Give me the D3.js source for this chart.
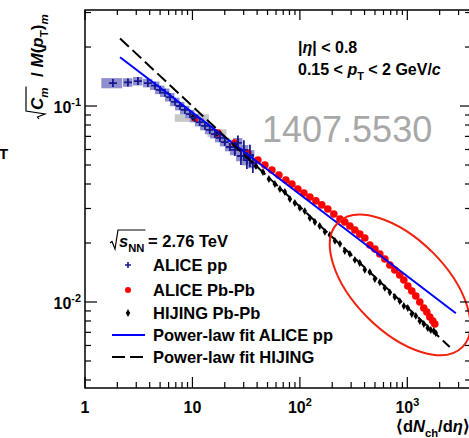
<!DOCTYPE html>
<html>
<head>
<meta charset="utf-8">
<script src="https://cdn.jsdelivr.net/npm/d3@7"></script>
<style>
body { margin: 0; background: #fff; }
svg text { font-family: "Liberation Sans", Arial, sans-serif; font-weight: bold; fill: #000; }
</style>
</head>
<body>
<div id="chart"></div>
<script>
// ALICE pp, blue crosses
var ppX = [1.82, 2.51, 3.11, 3.85, 4.48, 4.99, 5.55, 6.18, 6.88, 7.65, 8.51, 9.48, 10.5, 11.7, 13.1, 14.5, 16.2, 18.0, 20.0, 22.3, 24.8, 26.5, 28.3, 30.1, 32.1, 34.3, 36.5];
var ppY = [0.131, 0.132, 0.134, 0.131, 0.127, 0.121, 0.117, 0.111, 0.105, 0.100, 0.0955, 0.0910, 0.0869, 0.0828, 0.0791, 0.0755, 0.0719, 0.0687, 0.0655, 0.0618, 0.0597, 0.0648, 0.0556, 0.0597, 0.0530, 0.0562, 0.0512];
var ppStat = [0.005, 0.005, 0.005, 0.006, 0.006, 0.007, 0.007, 0.008, 0.008, 0.009, 0.01, 0.01, 0.012, 0.012, 0.014, 0.016, 0.02, 0.025, 0.03, 0.04, 0.07, 0.09, 0.1, 0.12, 0.1, 0.13, 0.11];
var ppSysX = [0.22, 0.1, 0.1, 0.1, 0.1, 0.1, 0.1, 0.1, 0.1, 0.1, 0.1, 0.1, 0.1, 0.1, 0.1, 0.1, 0.1, 0.1, 0.1, 0.1, 0.1, 0.1, 0.1, 0.1, 0.1, 0.1, 0.1];
var ppSysY = [0.06, 0.05, 0.05, 0.05, 0.05, 0.05, 0.05, 0.05, 0.05, 0.05, 0.05, 0.05, 0.05, 0.05, 0.05, 0.05, 0.05, 0.05, 0.05, 0.05, 0.06, 0.06, 0.06, 0.06, 0.06, 0.06, 0.06];

// ALICE Pb-Pb, red circles
var pbX = [10.55, 17.27, 24.85, 32.83, 40.67, 47.25, 54.9, 63.8, 74.1, 84.3, 95.8, 109, 124, 141, 160, 182, 207, 236, 262, 292, 325, 361, 402, 448, 499, 555, 618, 688, 765, 851, 928, 1011, 1101, 1200, 1307, 1424, 1519, 1619, 1727, 1803];
var pbY = [0.0869, 0.0728, 0.0647, 0.0576, 0.0530, 0.0500, 0.0471, 0.0445, 0.0419, 0.0400, 0.0377, 0.0360, 0.0343, 0.0328, 0.0313, 0.0298, 0.0281, 0.0265, 0.0256, 0.0244, 0.0233, 0.0222, 0.0212, 0.01954, 0.01864, 0.01757, 0.01658, 0.01545, 0.01457, 0.01373, 0.01295, 0.01207, 0.01138, 0.01073, 0.0100, 0.00932, 0.00889, 0.00839, 0.00800, 0.00772];
var pbSysX = [0.35, 0.2, 0.12, 0.08, 0.05, 0.04, 0.03, 0.03, 0.03, 0.03, 0.03, 0.03, 0.03, 0.03, 0.03, 0.03, 0.03, 0.03, 0.03, 0.03, 0.03, 0.03, 0.03, 0.03, 0.03, 0.03, 0.03, 0.03, 0.03, 0.03, 0.03, 0.03, 0.03, 0.03, 0.03, 0.03, 0.03, 0.03, 0.03, 0.03];
var pbSysY = [0.045, 0.045, 0.045, 0.04, 0.035, 0.03, 0.03, 0.03, 0.03, 0.03, 0.03, 0.03, 0.03, 0.03, 0.03, 0.03, 0.03, 0.03, 0.03, 0.03, 0.03, 0.03, 0.03, 0.03, 0.03, 0.03, 0.03, 0.03, 0.03, 0.03, 0.03, 0.03, 0.03, 0.03, 0.03, 0.03, 0.03, 0.03, 0.03, 0.03];

// HIJING Pb-Pb, small black diamonds
var hijX = [10.1, 16.9, 24.8, 32.1, 39.0, 45.3, 51.5, 58.5, 65.2, 72.5, 80.7, 89.8, 100, 111, 124, 138, 153, 171, 190, 212, 236, 262, 292, 325, 361, 402, 448, 499, 555, 618, 688, 765, 851, 928, 1011, 1101, 1200, 1307, 1424, 1551, 1654, 1764, 1841];
var hijY = [0.0879, 0.0728, 0.0632, 0.0549, 0.0494, 0.0460, 0.0424, 0.0400, 0.0377, 0.0364, 0.0335, 0.0320, 0.0302, 0.0291, 0.0268, 0.0256, 0.0244, 0.0228, 0.0220, 0.0205, 0.0198, 0.0182, 0.0176, 0.0164, 0.0158, 0.0146, 0.0142, 0.0131, 0.0126, 0.0118, 0.0112, 0.0106, 0.0101, 0.00954, 0.00932, 0.00869, 0.00849, 0.00800, 0.00772, 0.00737, 0.00720, 0.00711, 0.00694];

// power-law fits: [A, exponent, xFrom, xTo]
var fitPP = [0.243, -0.418, 2.12, 2830];
var fitHijing = [0.325, -0.513, 2.12, 2480];

var xMajor = [1, 10, 100, 1000];
var xMajorLabels = [["1", ""], ["10", ""], ["10", "2"], ["10", "3"]];
var yMajor = [0.1, 0.01];
var yMajorLabels = [["10", "-1"], ["10", "-2"]];

var legendLabels = ["ALICE pp", "ALICE Pb-Pb", "HIJING Pb-Pb", "Power-law fit ALICE pp", "Power-law fit HIJING"];

// red ellipse annotation, centre in data units
var ellipseAt = [857, 0.01222];

var W = 469, H = 438;
var plotL = 85, plotR = 472, plotT = 10, plotB = 388;

var x = d3.scaleLog().domain([1, 4000]).range([plotL, plotR]);
var y = d3.scaleLog().domain([0.00364, 0.309]).range([plotB, plotT]);

var svg = d3.select("#chart").append("svg")
    .attr("width", W)
    .attr("height", H);

// helper for text with sub / superscripts
function rich(g, xx, yy, parts, size, anchor) {
  var t = g.append("text").attr("x", xx).attr("y", yy).style("font-size", size + "px");
  if (anchor) t.attr("text-anchor", anchor);
  var cur = 0;
  parts.forEach(function(p) {
    var f = p[1] || "";
    var s = f.indexOf("sub") >= 0 ? 0.32 * size : f.indexOf("sup") >= 0 ? -0.42 * size : 0;
    var ts = t.append("tspan").text(p[0]).attr("dy", s - cur);
    if (s != 0) ts.style("font-size", (size * 0.68) + "px");
    if (f.indexOf("it") >= 0) ts.style("font-style", "italic");
    cur = s;
  });
  return t;
}

function radical(g, x0, base, w, h) {
  g.append("path")
    .attr("d", "M" + x0 + "," + (base - 4) + "l2,-1.5l3,7.5l3,-" + (h + 6) + "h" + w)
    .attr("fill", "none")
    .attr("stroke", "#000")
    .attr("stroke-width", 1.2);
}

// systematic boxes
var pbData = pbX.map(function(v, i) { return { x: v, y: pbY[i], sx: pbSysX[i], sy: pbSysY[i] }; });
var ppData = ppX.map(function(v, i) { return { x: v, y: ppY[i], e: ppStat[i], sx: ppSysX[i], sy: ppSysY[i] }; });
var hijData = hijX.map(function(v, i) { return { x: v, y: hijY[i] }; });

svg.append("g").selectAll("rect")
    .data(pbData)
    .enter().append("rect")
    .attr("x", function(d) { return x(d.x * (1 - d.sx)); })
    .attr("width", function(d) { return x(d.x * (1 + d.sx)) - x(d.x * (1 - d.sx)); })
    .attr("y", function(d) { return y(d.y * (1 + d.sy)); })
    .attr("height", function(d) { return y(d.y * (1 - d.sy)) - y(d.y * (1 + d.sy)); })
    .attr("fill", "#c8c8c8");

svg.append("g").selectAll("rect")
    .data(ppData)
    .enter().append("rect")
    .attr("x", function(d) { return x(d.x * (1 - d.sx)); })
    .attr("width", function(d) { return x(d.x * (1 + d.sx)) - x(d.x * (1 - d.sx)); })
    .attr("y", function(d) { return y(d.y * (1 + d.sy)); })
    .attr("height", function(d) { return y(d.y * (1 - d.sy)) - y(d.y * (1 + d.sy)); })
    .attr("fill", "#8f8fd0");

// Pb-Pb points
svg.append("g").selectAll("circle")
    .data(pbData)
    .enter().append("circle")
    .attr("cx", function(d) { return x(d.x); })
    .attr("cy", function(d) { return y(d.y); })
    .attr("r", 3.8)
    .attr("fill", "#ff0000");

// HIJING points
var diamond = d3.symbol().type(d3.symbolDiamond).size(18);
svg.append("g").selectAll("path")
    .data(hijData)
    .enter().append("path")
    .attr("d", diamond)
    .attr("transform", function(d) { return "translate(" + x(d.x) + "," + y(d.y) + ")"; })
    .attr("fill", "#000");

// pp points: error bars + crosses
var ppG = svg.append("g").attr("stroke", "#18188c").attr("stroke-width", 1.8);
ppG.selectAll(".err")
    .data(ppData)
    .enter().append("line")
    .attr("x1", function(d) { return x(d.x); })
    .attr("x2", function(d) { return x(d.x); })
    .attr("y1", function(d) { return y(d.y * (1 + d.e)); })
    .attr("y2", function(d) { return y(d.y * (1 - d.e)); });
ppG.selectAll(".cross")
    .data(ppData)
    .enter().append("path")
    .attr("d", function(d) {
      var cx = x(d.x), cy = y(d.y);
      return "M" + (cx - 4) + "," + cy + "h8M" + cx + "," + (cy - 4) + "v8";
    });

// fit lines
function fitLine(p) {
  var pts = [p[2], p[3]].map(function(v) { return [x(v), y(p[0] * Math.pow(v, p[1]))]; });
  return d3.line()(pts);
}
svg.append("path")
    .attr("d", fitLine(fitPP))
    .attr("fill", "none")
    .attr("stroke", "#0000ff")
    .attr("stroke-width", 2);
svg.append("path")
    .attr("d", fitLine(fitHijing))
    .attr("fill", "none")
    .attr("stroke", "#000")
    .attr("stroke-width", 2)
    .attr("stroke-dasharray", "12,5");

// ellipse
svg.append("ellipse")
    .attr("transform", "translate(" + x(ellipseAt[0]) + "," + y(ellipseAt[1]) + ") rotate(45)")
    .attr("rx", 88)
    .attr("ry", 46)
    .attr("fill", "none")
    .attr("stroke", "#f2200c")
    .attr("stroke-width", 2);

// frame
svg.append("rect")
    .attr("x", plotL).attr("y", plotT)
    .attr("width", plotR - plotL).attr("height", plotB - plotT)
    .attr("fill", "none")
    .attr("stroke", "#000")
    .attr("stroke-width", 1.5);

// ticks
var xTicks = [], yTicks = [];
[1, 10, 100, 1000].forEach(function(d) {
  for (var k = 1; k < 10; k++) if (k * d < 4000) xTicks.push({ v: k * d, major: k == 1 });
});
[0.001, 0.01, 0.1].forEach(function(d) {
  for (var k = 1; k < 10; k++) {
    var v = k * d;
    if (v > 0.00364 && v < 0.309) yTicks.push({ v: v, major: k == 1 });
  }
});
var tickG = svg.append("g").attr("stroke", "#000").attr("stroke-width", 1.2);
tickG.selectAll(".xb").data(xTicks).enter().append("line")
    .attr("x1", function(d) { return x(d.v); }).attr("x2", function(d) { return x(d.v); })
    .attr("y1", plotB).attr("y2", function(d) { return plotB - (d.major ? 11 : 6); });
tickG.selectAll(".xt").data(xTicks).enter().append("line")
    .attr("x1", function(d) { return x(d.v); }).attr("x2", function(d) { return x(d.v); })
    .attr("y1", plotT).attr("y2", function(d) { return plotT + (d.major ? 10 : 5); });
tickG.selectAll(".yl").data(yTicks).enter().append("line")
    .attr("y1", function(d) { return y(d.v); }).attr("y2", function(d) { return y(d.v); })
    .attr("x1", plotL).attr("x2", function(d) { return plotL + (d.major ? 12 : 6); });
tickG.selectAll(".yr").data(yTicks).enter().append("line")
    .attr("y1", function(d) { return y(d.v); }).attr("y2", function(d) { return y(d.v); })
    .attr("x1", plotR).attr("x2", function(d) { return plotR - (d.major ? 12 : 7); });

// tick labels
xMajor.forEach(function(v, i) {
  var l = xMajorLabels[i];
  var parts = [[l[0]]];
  if (l[1]) parts.push([l[1], "sup"]);
  rich(svg, x(v), 413, parts, 16, "middle");
});
yMajor.forEach(function(v, i) {
  var l = yMajorLabels[i];
  rich(svg, 81, y(v) + 7, [[l[0]], [l[1], "sup"]], 16, "end");
});

// axis titles
rich(svg, 396, 432, [["\u27e8d"], ["N", "it"], ["ch", "sub"], ["/d"], ["\u03b7", "it"], ["\u27e9"]], 16.5);

var yt = svg.append("g").attr("transform", "translate(43,119) rotate(-90)");
var cm = rich(yt, 9, 0, [["C", "it"], ["m", "sub it"]], 17);
var cmw = cm.node().getComputedTextLength();
radical(yt, 0, 0, cmw + 2, 13);
rich(yt, 9 + cmw + 1, 0, [["\u00a0\u00a0/\u00a0"], ["M", "it"], ["("], ["p", "it"], ["T", "sub"], [")"], ["m", "sub it"]], 17);

// partial label from the neighbouring panel
svg.append("text").attr("x", -1).attr("y", 159).style("font-size", "15px").text("T");

// kinematic text
rich(svg, 298, 53, [["|"], ["\u03b7", "it"], ["| < 0.8"]], 16);
rich(svg, 298, 75, [["0.15 < "], ["p", "it"], ["T", "sub"], ["\u00a0< 2 GeV/"], ["c", "it"]], 16);

svg.append("text")
    .attr("x", 262).attr("y", 142)
    .style("font-size", "36px")
    .style("font-weight", "normal")
    .style("fill", "#a8a8a8")
    .text("1407.5530");

// legend
var sNN = rich(svg, 119, 247, [["s", "it"], ["NN", "sub"]], 16.5);
var snw = sNN.node().getComputedTextLength();
radical(svg, 110, 247, snw + 2, 13);
rich(svg, 148, 247, [["= 2.76 TeV"]], 16.5);

var legRows = [271, 296, 319, 341, 363];
var leg = svg.append("g");
legendLabels.forEach(function(t, i) {
  leg.append("text").attr("x", 153).attr("y", legRows[i]).style("font-size", "16.5px").text(t);
});
var my = function(i) { return legRows[i] - 6; };
leg.append("path")
    .attr("d", "M125," + my(0) + "h6M128," + (my(0) - 3) + "v6")
    .attr("stroke", "#18188c").attr("stroke-width", 1.6);
leg.append("circle").attr("cx", 128).attr("cy", my(1)).attr("r", 3).attr("fill", "#ff0000");
leg.append("path").attr("d", diamond).attr("transform", "translate(128," + my(2) + ")").attr("fill", "#000");
leg.append("line").attr("x1", 112).attr("x2", 145).attr("y1", my(3)).attr("y2", my(3))
    .attr("stroke", "#0000ff").attr("stroke-width", 2);
leg.append("line").attr("x1", 112).attr("x2", 145).attr("y1", my(4)).attr("y2", my(4))
    .attr("stroke", "#000").attr("stroke-width", 2).attr("stroke-dasharray", "13,5");
</script>
</body>
</html>
